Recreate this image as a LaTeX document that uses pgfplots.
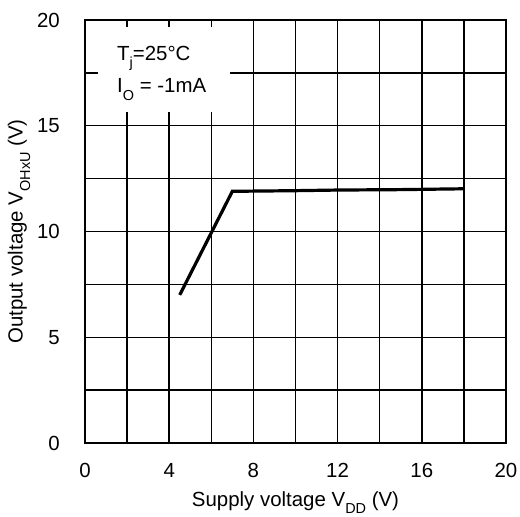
\documentclass[border=0pt]{standalone}
\usepackage{pgfplots}
\pgfplotsset{compat=1.18}
\usepackage{fontspec}
\setmainfont{Liberation Sans}
\newcommand{\sub}[1]{\raisebox{-7.5bp}{\fontsize{14.5}{14.5}\selectfont #1}}
\newcommand{\bigtxt}{\fontsize{20.5}{20.5}\selectfont}
\begin{document}
\begin{tikzpicture}
\useasboundingbox (-85bp,-74bp) rectangle (435bp,443bp);
\begin{axis}[
  at={(0,0)}, anchor=south west,
  scale only axis,
  width=421bp, height=423bp,
  xmin=0, xmax=20, ymin=0, ymax=20,
  xtick={0,4,...,20}, ytick={0,5,...,20},
  minor xtick={2,6,...,18}, minor ytick={2.5,7.5,...,17.5},
  grid=both,
  major grid style={black, line width=1.4bp},
  minor grid style={black, line width=1.4bp},
  major tick length=0pt, minor tick length=0pt,
  axis line style={black, line width=1.8bp},
  tick label style={font=\bigtxt, inner sep=0pt},
  /pgf/number format/assume math mode=true,
  xticklabel style={anchor=north, yshift=-20bp},
  yticklabel style={anchor=east, xshift=-25bp},
  label style={font=\bigtxt, inner sep=0pt},
  xlabel={Supply voltage V\sub{DD} (V)},
  ylabel={Output voltage V\sub{OHxU} (V)},
  xlabel style={at={(axis description cs:0.5,0)}, anchor=base, yshift=-63bp},
  ylabel style={at={(axis description cs:0,0.5)}, anchor=center, yshift=66bp},
]
\addplot[black, line width=3.2bp, line join=miter] coordinates {
  (4.5,7.0) (7.0,11.9) (10,11.93) (12,11.96) (15,11.98) (18,12.02)
};
\fill[white] (axis cs:0.62,15.65) rectangle (axis cs:6.9,19.67);
\node[anchor=base west, font=\bigtxt, inner sep=0pt] at (axis cs:1.52,18.1) {T\sub{j}=25°C};
\node[anchor=base west, font=\bigtxt, inner sep=0pt] at (axis cs:1.52,16.55) {I\sub{O} = -1mA};
\end{axis}
\end{tikzpicture}
\end{document}
